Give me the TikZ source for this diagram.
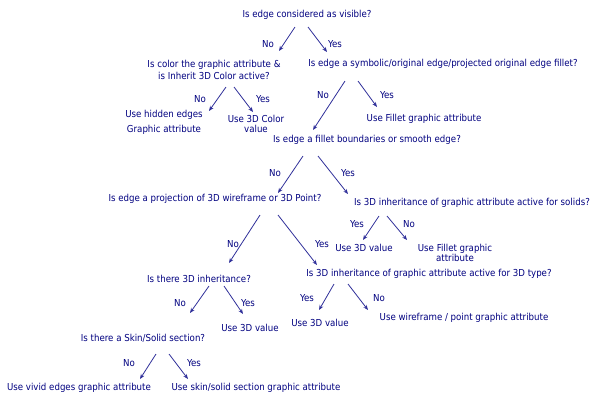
\documentclass[tikz,border=0pt]{standalone}
\usepackage{fontspec}
\setmainfont{DejaVu Sans Condensed}
\usetikzlibrary{arrows.meta}
\definecolor{txt}{HTML}{000080}
\definecolor{arr}{HTML}{30309A}
\begin{document}
\begin{tikzpicture}[x=1pt,y=-1pt,
  lbl/.style={text=txt,font=\fontsize{9.6}{10}\selectfont,inner sep=0pt,align=center},
  two/.style={lbl,font=\fontsize{9.6}{12}\selectfont},
  tight/.style={lbl,font=\fontsize{9.6}{10}\selectfont},
  conn/.style={draw=arr,line width=0.8pt,-{Stealth[length=5pt,width=4pt]}}]
\useasboundingbox[fill=white] (0,0) rectangle (599,400);
% questions and answers
\node[lbl] (q1) at (307,15) {Is edge considered as visible?};
\node[two] (q2) at (214,70) {Is color the graphic attribute \&\\is Inherit 3D Color active?};
\node[lbl] (q3) at (443,64) {Is edge a symbolic/original edge/projected original edge fillet?};
\node[lbl] (a1) at (164,115) {Use hidden edges};
\node[lbl] (a1b) at (164,130) {Graphic attribute};
\node[tight] (a2) at (256,124) {Use 3D Color\\value};
\node[lbl] (a3) at (424,119) {Use Fillet graphic attribute};
\node[lbl] (q4) at (367,140) {Is edge a fillet boundaries or smooth edge?};
\node[lbl] (q5) at (215,199) {Is edge a projection of 3D wireframe or 3D Point?};
\node[lbl] (q6) at (472,203) {Is 3D inheritance of graphic attribute active for solids?};
\node[lbl] (a4) at (364,248) {Use 3D value};
\node[tight] (a5) at (455,253) {Use Fillet graphic\\attribute};
\node[lbl] (q7) at (199,279) {Is there 3D inheritance?};
\node[lbl] (q8) at (429,274) {Is 3D inheritance of graphic attribute active for 3D type?};
\node[lbl] (a6) at (250,328) {Use 3D value};
\node[lbl] (a7) at (320,323) {Use 3D value};
\node[lbl] (a8) at (464,318) {Use wireframe / point graphic attribute};
\node[lbl] (q9) at (143,338) {Is there a Skin/Solid section?};
\node[lbl] (a9) at (79,388) {Use vivid edges graphic attribute};
\node[lbl] (a10) at (256,388) {Use skin/solid section graphic attribute};
% arrow end points
\coordinate (q1n) at (295,27); \coordinate (q2t) at (279,51);
\coordinate (q1y) at (308,27); \coordinate (q3t) at (327,52);
\coordinate (q2n) at (226,87); \coordinate (a1t) at (209,111);
\coordinate (q2y) at (234,87); \coordinate (a2t) at (253,112);
\coordinate (q3n) at (345,81); \coordinate (q4t) at (313,130);
\coordinate (q3y) at (358,81); \coordinate (a3t) at (377,107);
\coordinate (q4n) at (303,156); \coordinate (q5t) at (278,193);
\coordinate (q4y) at (318,156); \coordinate (q6t) at (348,194);
\coordinate (q6y) at (379,216); \coordinate (a4t) at (363,240);
\coordinate (q6n) at (387,216); \coordinate (a5t) at (407,240);
\coordinate (q5n) at (260,215); \coordinate (q7t) at (229,263);
\coordinate (q5y) at (278,215); \coordinate (q8t) at (317,265);
\coordinate (q7n) at (209,286); \coordinate (q9t) at (190,313);
\coordinate (q7y) at (224,286); \coordinate (a6t) at (243,314);
\coordinate (q8y) at (334,284); \coordinate (a7t) at (319,310);
\coordinate (q8n) at (348,284); \coordinate (a8t) at (368,310);
\coordinate (q9n) at (156,354); \coordinate (a9t) at (140,379);
\coordinate (q9y) at (169,354); \coordinate (a10t) at (188,379);
% connectors
\draw[conn] (q1n) -- (q2t);
\draw[conn] (q1y) -- (q3t);
\draw[conn] (q2n) -- (a1t);
\draw[conn] (q2y) -- (a2t);
\draw[conn] (q3n) -- (q4t);
\draw[conn] (q3y) -- (a3t);
\draw[conn] (q4n) -- (q5t);
\draw[conn] (q4y) -- (q6t);
\draw[conn] (q6y) -- (a4t);
\draw[conn] (q6n) -- (a5t);
\draw[conn] (q5n) -- (q7t);
\draw[conn] (q5y) -- (q8t);
\draw[conn] (q7n) -- (q9t);
\draw[conn] (q7y) -- (a6t);
\draw[conn] (q8y) -- (a7t);
\draw[conn] (q8n) -- (a8t);
\draw[conn] (q9n) -- (a9t);
\draw[conn] (q9y) -- (a10t);
% branch labels
\node[lbl] (l1) at (268,44) {No};
\node[lbl] (l2) at (335,44) {Yes};
\node[lbl] (l3) at (200,99) {No};
\node[lbl] (l4) at (263,99) {Yes};
\node[lbl] (l5) at (323,95) {No};
\node[lbl] (l6) at (387,95) {Yes};
\node[lbl] (l7) at (275,173) {No};
\node[lbl] (l8) at (348,173) {Yes};
\node[lbl] (l9) at (357,224) {Yes};
\node[lbl] (l10) at (409,224) {No};
\node[lbl] (l11) at (233,244) {No};
\node[lbl] (l12) at (322,244) {Yes};
\node[lbl] (l13) at (180,303) {No};
\node[lbl] (l14) at (248,303) {Yes};
\node[lbl] (l15) at (307,298) {Yes};
\node[lbl] (l16) at (379,298) {No};
\node[lbl] (l17) at (129,363) {No};
\node[lbl] (l18) at (194,363) {Yes};
\end{tikzpicture}
\end{document}
